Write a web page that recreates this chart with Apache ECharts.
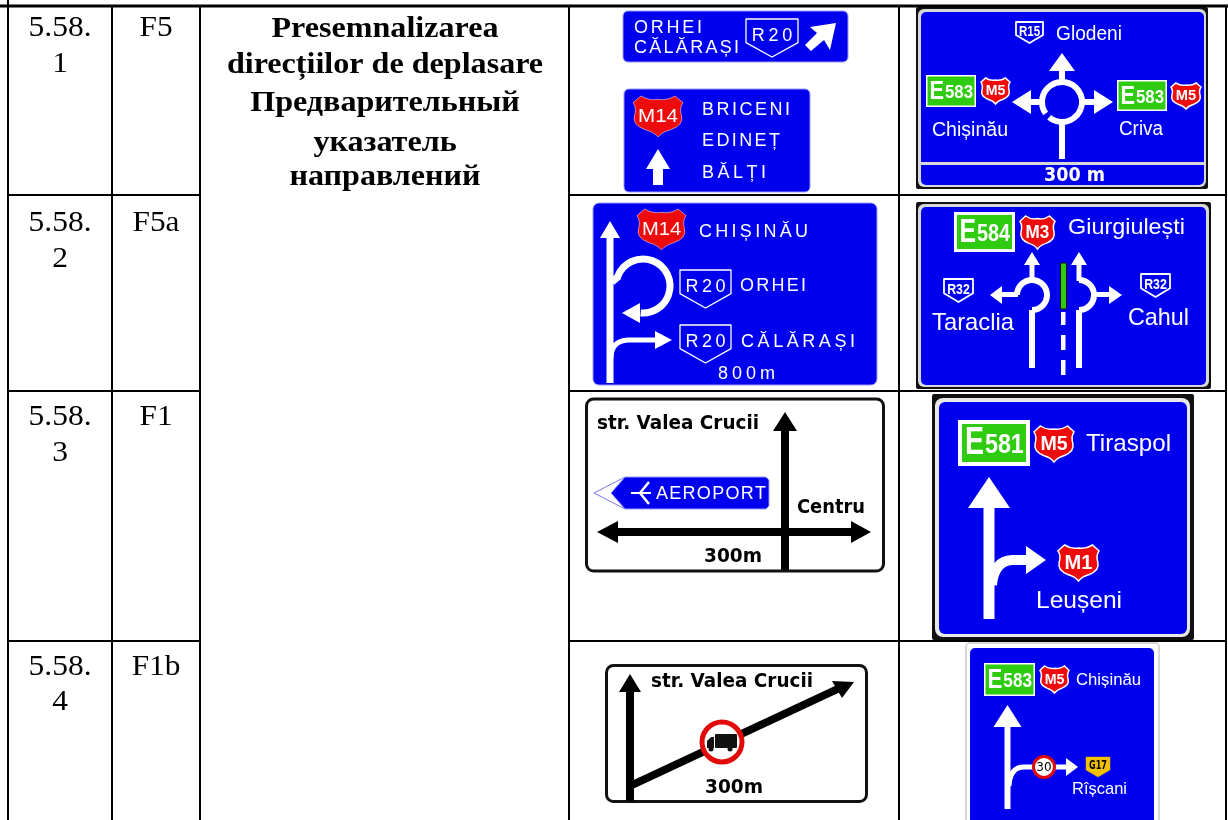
<!DOCTYPE html>
<html lang="en">
<head>
<meta charset="UTF-8">
<title>Presemnalizarea directiilor de deplasare</title>
<style>
  html, body { margin: 0; padding: 0; background: #fff; }
  #main { width: 1228px; height: 820px; }
</style>
<script src="https://cdn.jsdelivr.net/npm/echarts@6/dist/echarts.min.js"></script>
</head>
<body>
<div id="main"></div>
<script>
// table content
var rowNumbers = [['5.58.', '1'], ['5.58.', '2'], ['5.58.', '3'], ['5.58.', '4']];
var rowCodes = ['F5', 'F5a', 'F1', 'F1b'];
var titleLines = ['Presemnalizarea', 'direcțiilor de deplasare', 'Предварительный', 'указатель', 'направлений'];
var titleY = [29, 65, 103, 143, 177];
var rowTextY = [[28, 64], [223, 259], [417, 453], [667, 702]];
var columnX = [8, 112, 200, 569, 899, 1226];
var rowY = [6, 195, 391, 641];

var BLUE = '#0000ee', GREEN = '#2ecb10', RED = '#ee0b0b';
var SANS = 'Liberation Sans, Arial, sans-serif';
var DEJAVU = 'DejaVu Sans, sans-serif';
var SERIF = 'Liberation Serif, Times New Roman, serif';
var PLATE = '18px ' + SANS;

var els = [];
var measure = document.createElement('canvas').getContext('2d');

function rect(x, y, w, h, r, fill, stroke, lw) {
  els.push({ type: 'rect', shape: { x: x, y: y, width: w, height: h, r: r },
    style: { fill: fill, stroke: stroke || null, lineWidth: lw || 0 } });
}
function poly(points, fill, stroke, lw) {
  els.push({ type: 'polygon', shape: { points: points },
    style: { fill: fill, stroke: stroke || null, lineWidth: lw || 0, lineJoin: 'round' } });
}
function line(points, color, lw) {
  els.push({ type: 'polyline', shape: { points: points },
    style: { fill: null, stroke: color, lineWidth: lw } });
}
function curve(d, color, lw) {
  els.push({ type: 'path', shape: { pathData: d },
    style: { fill: 'none', stroke: color, lineWidth: lw } });
}
function arc(cx, cy, r, a0, a1, color, lw) {
  els.push({ type: 'arc', shape: { cx: cx, cy: cy, r: r, startAngle: a0 * Math.PI / 180, endAngle: a1 * Math.PI / 180, clockwise: true },
    style: { fill: null, stroke: color, lineWidth: lw } });
}
function text(str, x, y, font, color, align) {
  els.push({ type: 'text', style: { text: str, x: x, y: y + 1, font: font, fill: color || '#000',
    align: align || 'center', verticalAlign: 'middle' } });
}
// centred text with a horizontal stretch, the scanned table type is wider than Liberation Serif
function wide(str, cx, y, font, sx) {
  els.push({ type: 'text', x: cx, y: y, scaleX: sx,
    style: { text: str, x: 0, y: 0, font: font, fill: '#000', align: 'center', verticalAlign: 'middle' } });
}
// letter spaced text running from x1 to x2
function spaced(str, x1, x2, y, font, color) {
  measure.font = font;
  var chars = Array.from(str);
  var total = 0;
  chars.forEach(function (c) { total += measure.measureText(c).width; });
  var gap = chars.length > 1 ? (x2 - x1 - total) / (chars.length - 1) : 0;
  var x = x1;
  chars.forEach(function (c) {
    text(c, x, y, font, color, 'left');
    x += measure.measureText(c).width + gap;
  });
}
// text squeezed or stretched to sit between x1 and x2
function fitted(str, x1, x2, y, font, color) {
  measure.font = font;
  var sx = (x2 - x1) / measure.measureText(str).width;
  els.push({ type: 'text', x: x1, y: y + 1, scaleX: sx,
    style: { text: str, x: 0, y: 0, font: font, fill: color || '#000', align: 'left', verticalAlign: 'middle' } });
}
function upArrow(cx, tip, base, halfW, shaftW, end, color) {
  poly([[cx, tip], [cx + halfW, base], [cx - halfW, base]], color);
  rect(cx - shaftW / 2, base - 1, shaftW, end - base + 1, 0, color);
}
function sideHead(tip, base, y, h, color) { poly([[tip, y], [base, y - h], [base, y + h]], color); }

function shield(x, y, w, h, fill, stroke, lw) {
  var p = function (px, py) { return (x + px * w / 100).toFixed(1) + ' ' + (y + py * h / 100).toFixed(1); };
  var d = 'M' + p(16, 0) + ' Q' + p(32, 12) + ' ' + p(50, 8) + ' Q' + p(68, 12) + ' ' + p(84, 0) +
    ' L' + p(100, 16) + ' Q' + p(92, 30) + ' ' + p(97, 48) + ' Q' + p(102, 70) + ' ' + p(76, 82) +
    ' Q' + p(58, 88) + ' ' + p(50, 100) + ' Q' + p(42, 88) + ' ' + p(24, 82) +
    ' Q' + p(-2, 70) + ' ' + p(3, 48) + ' Q' + p(8, 30) + ' ' + p(0, 16) + ' Z';
  els.push({ type: 'path', shape: { pathData: d }, style: { fill: fill, stroke: stroke || null, lineWidth: lw || 0 } });
}
function redShield(x, y, w, h, label, size, bold) {
  shield(x, y, w, h, RED, '#fff', bold ? 1.5 : 0.5);
  var cy = y + h * 0.47;
  var pad = w * (bold ? 0.16 : 0.1);
  fitted(label, x + pad, x + w - pad, cy, (bold ? 'bold ' : '') + size + 'px ' + SANS, '#fff');
}
// R20 style outlined route plate
function routePlate(x, y, w, h, label, size, lw, bold) {
  var side = y + h * 0.62;
  poly([[x, y], [x + w, y], [x + w, side], [x + w / 2, y + h], [x, side]], BLUE, '#fff', lw);
  var pad = w * 0.11;
  if (bold) {
    fitted(label, x + pad, x + w - pad, y + h * 0.42, 'bold ' + size + 'px ' + SANS, '#fff');
  } else {
    spaced(label, x + pad, x + w - pad, y + h * 0.42, size + 'px ' + SANS, '#fff');
  }
}
function greenBox(x, y, w, h, border, first, rest, size) {
  rect(x, y, w, h, 0, '#fff');
  rect(x + border, y + border, w - 2 * border, h - 2 * border, 0, GREEN);
  var left = x + border + w * 0.04;
  var mid = x + w * 0.36;
  fitted(first, left, mid, y + h / 2, 'bold ' + size + 'px ' + SANS, '#fff');
  fitted(rest, mid + 1, x + w - border - w * 0.03, y + h / 2 + 1, 'bold ' + size * 0.72 + 'px ' + SANS, '#fff');
}
function frame(x, y, w, h, ix, iy, iw, ih) {
  rect(x, y, w, h, 2, '#111');
  rect(x + 2, y + 2, w - 4, h - 4, 6, '#d8d8d8');
  rect(ix, iy, iw, ih, 5, BLUE);
}

// ---- table ----
rowNumbers.forEach(function (lines, i) {
  wide(lines[0], 60, rowTextY[i][0], '30px ' + SERIF, 1.05);
  wide(lines[1], 60, rowTextY[i][1], '30px ' + SERIF, 1.05);
  wide(rowCodes[i], 156, rowTextY[i][0], '29px ' + SERIF, 1.08);
});
titleLines.forEach(function (s, i) {
  wide(s, 385, titleY[i], 'bold 30px ' + SERIF, 1.07);
});

// ---- sign: ORHEI / CALARASI ----
rect(623, 11, 225, 51, 5, BLUE, '#9a9af5', 1);
spaced('ORHEI', 634, 702, 27, PLATE, '#fff');
spaced('CĂLĂRAȘI', 634, 739, 47, PLATE, '#fff');
routePlate(746, 19, 52, 38, 'R20', 18, 1.3, false);
poly([[836, 23], [830, 50], [824, 40], [811, 51], [805, 45], [817, 33], [810, 27]], '#fff');

// ---- sign: BRICENI ----
rect(624, 89, 186, 103, 5, BLUE, '#9a9af5', 1);
redShield(633, 96, 50, 41, 'M14', 19, false);
spaced('BRICENI', 702, 790, 109, PLATE, '#fff');
spaced('EDINEȚ', 702, 780, 140, PLATE, '#fff');
spaced('BĂLȚI', 702, 766, 172, PLATE, '#fff');
upArrow(658, 149, 169, 12, 10, 185, '#fff');

// ---- sign: roundabout Glodeni ----
frame(916, 7, 292, 182, 921, 12, 283, 173);
rect(919, 162, 287, 3, 0, '#d8d8d8');
fitted('300 m', 1044, 1105, 175, 'bold 20px ' + DEJAVU, '#fff');
routePlate(1016, 22, 27, 21, 'R15', 14, 1.8, true);
fitted('Glodeni', 1056, 1122, 33, '20px ' + SANS, '#fff');
upArrow(1062, 53, 71, 13, 6, 84, '#fff');
arc(1062, 102, 20, 20, 130, '#fff', 6);
arc(1062, 102, 20, 145, 380, '#fff', 6);
rect(1059, 120, 6, 39, 0, '#fff');
sideHead(1012, 1031, 102, 12, '#fff');
rect(1030, 99, 14, 6, 0, '#fff');
sideHead(1113, 1094, 102, 12, '#fff');
rect(1080, 99, 15, 6, 0, '#fff');
greenBox(926, 75, 50, 32, 1.5, 'E', '583', 26);
redShield(981, 78, 29, 26, 'M5', 15, true);
fitted('Chișinău', 932, 1008, 129, '20px ' + SANS, '#fff');
greenBox(1117, 80, 50, 31, 1.5, 'E', '583', 26);
redShield(1171, 83, 30, 26, 'M5', 15, true);
fitted('Criva', 1119, 1163, 128, '20px ' + SANS, '#fff');

// ---- sign: M14 CHISINAU loop ----
rect(593, 203, 284, 182, 6, BLUE, '#9a9af5', 1);
upArrow(610, 221, 238, 10, 7, 383, '#fff');
arc(643, 286, 27, 200, 95, '#fff', 7);
line([[612, 282], [619, 276]], '#fff', 7);
sideHead(622, 640, 313, 10, '#fff');
curve('M611 358 Q611 341 628 340 L658 340', '#fff', 5);
sideHead(672, 655, 340, 9, '#fff');
redShield(637, 209, 49, 41, 'M14', 19, false);
spaced('CHIȘINĂU', 699, 808, 231, PLATE, '#fff');
routePlate(680, 270, 51, 38, 'R20', 18, 1.3, false);
spaced('ORHEI', 740, 806, 285, PLATE, '#fff');
routePlate(680, 325, 51, 38, 'R20', 18, 1.3, false);
spaced('CĂLĂRAȘI', 741, 855, 341, PLATE, '#fff');
spaced('800m', 718, 775, 373, PLATE, '#fff');

// ---- sign: Giurgiulesti ----
frame(916, 202, 295, 187, 921, 207, 285, 178);
greenBox(954, 212, 61, 40, 3, 'E', '584', 34);
redShield(1020, 216, 35, 33, 'M3', 19, true);
fitted('Giurgiulești', 1068, 1185, 227, '22px ' + SANS, '#fff');
routePlate(944, 279, 29, 23, 'R32', 14, 1.8, true);
fitted('Taraclia', 932, 1014, 322, '24px ' + SANS, '#fff');
routePlate(1141, 274, 29, 23, 'R32', 14, 1.8, true);
fitted('Cahul', 1128, 1189, 317, '24px ' + SANS, '#fff');
upArrow(1032, 252, 265, 8, 5, 281, '#fff');
arc(1032, 295, 15, 180, 90, '#fff', 6);
rect(1029, 310, 6, 58, 0, '#fff');
sideHead(990, 1002, 295, 9, '#fff');
rect(1001, 292, 17, 5, 0, '#fff');
upArrow(1079, 252, 265, 8, 5, 281, '#fff');
arc(1079, 295, 15, 270, 90, '#fff', 6);
rect(1076, 310, 6, 58, 0, '#fff');
sideHead(1122, 1109, 295, 9, '#fff');
rect(1093, 292, 17, 5, 0, '#fff');
rect(1060.5, 263, 6, 46, 1, GREEN, '#111', 1);
rect(1061, 312, 4.5, 13, 0, '#fff');
rect(1061, 335, 4.5, 15, 0, '#fff');
rect(1061, 360, 4.5, 15, 0, '#fff');

// ---- sign: F1 white ----
rect(586.5, 399, 297, 172, 7, '#fff', '#111', 3);
upArrow(785, 412, 431, 12, 8, 570, '#000');
rect(606, 528, 255, 8, 0, '#000');
sideHead(597, 618, 532, 11, '#000');
sideHead(871, 851, 532, 11, '#000');
fitted('str. Valea Crucii', 597, 759, 423, 'bold 19px ' + DEJAVU, '#000');
poly([[594, 493], [625, 477], [625, 509]], '#fff', '#7777ee', 1);
poly([[611, 493], [625, 477], [766, 477], [769, 480], [769, 506], [766, 509], [625, 509]], BLUE, '#9a9af5', 1);
line([[631, 493], [651, 493]], '#fff', 2);
line([[649, 482], [640, 493], [649, 504]], '#fff', 2.5);
spaced('AEROPORT', 656, 766, 493, PLATE, '#fff');
fitted('Centru', 797, 865, 507, 'bold 19px ' + DEJAVU, '#000');
fitted('300m', 704, 762, 556, 'bold 19px ' + DEJAVU, '#000');

// ---- sign: Tiraspol ----
rect(932, 394, 262, 246, 2, '#111');
rect(935, 398, 255, 239, 8, '#e8e8e8');
rect(939, 402, 248, 232, 6, BLUE);
greenBox(958, 420, 72, 46, 4, 'E', '581', 38);
redShield(1034, 426, 40, 36, 'M5', 21, true);
fitted('Tiraspol', 1086, 1171, 443, '24px ' + SANS, '#fff');
upArrow(989, 477, 508, 21, 11, 619, '#fff');
curve('M992 585 Q994 561 1012 560 L1028 560', '#fff', 10);
sideHead(1046, 1026, 560, 14, '#fff');
redShield(1058, 545, 41, 36, 'M1', 21, true);
fitted('Leușeni', 1036, 1122, 600, '24px ' + SANS, '#fff');

// ---- sign: F1b white ----
rect(606.5, 665.5, 260, 136, 7, '#fff', '#111', 3);
upArrow(630, 674, 692, 11, 8, 801, '#000');
line([[630, 786], [844, 686]], '#000', 8);
poly([[854, 682], [832, 681], [842, 698]], '#000');
fitted('str. Valea Crucii', 651, 813, 681, 'bold 19px ' + DEJAVU, '#000');
els.push({ type: 'circle', shape: { cx: 722, cy: 742, r: 20 }, style: { fill: '#fff', stroke: '#e00a0a', lineWidth: 5 } });
rect(715, 734, 22, 14, 1, '#111');
poly([[707, 748], [707, 741], [711, 737], [714, 737], [714, 748]], '#111');
els.push({ type: 'circle', shape: { cx: 711, cy: 749, r: 2.5 }, style: { fill: '#111' } });
els.push({ type: 'circle', shape: { cx: 730, cy: 749, r: 2.5 }, style: { fill: '#111' } });
fitted('300m', 705, 763, 787, 'bold 19px ' + DEJAVU, '#000');

// ---- sign: Chisinau / Riscani ----
rect(966, 643, 193, 190, 4, '#fff', '#cccccc', 1.5);
rect(970, 648, 184, 185, 5, BLUE);
greenBox(984, 663, 51, 33, 1.5, 'E', '583', 27);
redShield(1040, 666, 29, 27, 'M5', 15, true);
fitted('Chișinău', 1076, 1141, 679, '17px ' + SANS, '#fff');
upArrow(1007.5, 705, 727, 14, 6, 809, '#fff');
curve('M1009 786 Q1010 767 1024 767 L1068 767', '#fff', 5);
sideHead(1078, 1066, 767, 9, '#fff');
els.push({ type: 'circle', shape: { cx: 1044, cy: 767, r: 10.5 }, style: { fill: '#fff', stroke: '#e00a0a', lineWidth: 3 } });
text('30', 1044, 767, '12px ' + DEJAVU, '#000');
poly([[1086, 757], [1110, 757], [1110, 770], [1098, 777], [1086, 770]], '#f2c200', '#e0a800', 0.5);
fitted('G17', 1089, 1107, 765, 'bold 13px ' + DEJAVU, '#000');
fitted('Rîșcani', 1072, 1127, 788, '17px ' + SANS, '#fff');

// ---- grid lines go on last so signs stay behind the rules ----
columnX.forEach(function (x, i) {
  var top = i === 0 ? 0 : rowY[0];
  rect(x - 1, top, 2, 820 - top, 0, '#000');
});
rect(0, rowY[0] - 1.5, 1228, 3, 0, '#000');
[1, 2, 3].forEach(function (i) {
  rect(columnX[0], rowY[i] - 1, columnX[2] - columnX[0], 2, 0, '#000');
  rect(columnX[3], rowY[i] - 1, columnX[5] - columnX[3], 2, 0, '#000');
});

var myChart = echarts.init(document.getElementById('main'));
myChart.setOption({
  animation: false,
  backgroundColor: '#fff',
  series: [{
    type: 'custom',
    coordinateSystem: 'none',
    silent: true,
    data: [0],
    renderItem: function () {
      return { type: 'group', children: els };
    }
  }]
});
</script>
</body>
</html>
